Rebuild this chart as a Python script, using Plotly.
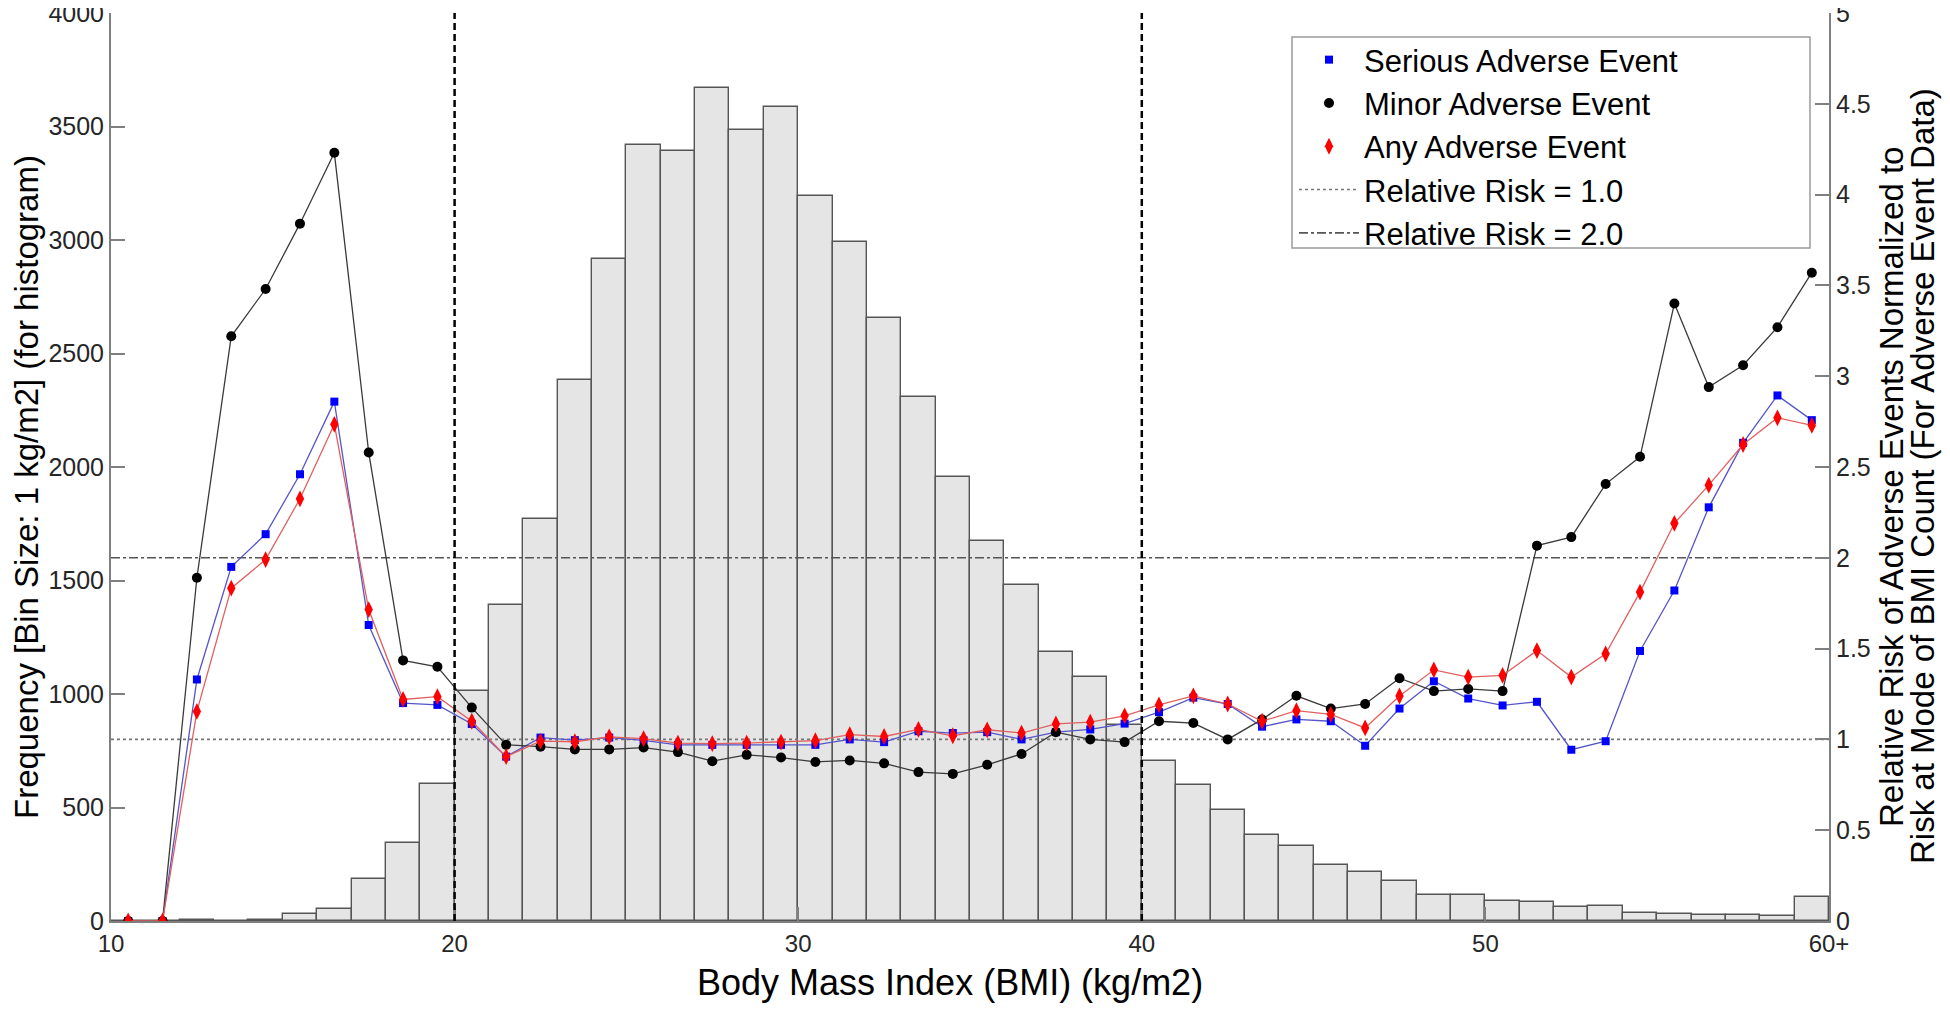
import plotly.graph_objects as go

# histogram bins (left edge of each 1 kg/m2 bin), last bin is 60+
bin_left = list(range(10, 60))
bin_mid = [b + 0.5 for b in bin_left]
hist_count = [0, 0, 3, 2, 5, 30, 52, 184, 342, 603,
              1012, 1393, 1772, 2385, 2915, 3418, 3390, 3670, 3485, 3587,
              3196, 2993, 2657, 2308, 1957, 1673, 1479, 1183, 1073, 865,
              704, 599, 490, 381, 331, 245, 215, 178, 114, 116,
              88, 84, 60, 65, 35, 30, 27, 25, 22, 107]

# relative risk, normalized to risk at mode of BMI count
rr_serious = [0, 0, 1.33, 1.95, 2.13, 2.46, 2.86, 1.63, 1.20, 1.19,
              1.085, 0.905, 1.01, 0.996, 1.01, 0.995, 0.97, 0.97, 0.97, 0.97,
              0.97, 1.00, 0.985, 1.045, 1.035, 1.04, 1.00, 1.04, 1.055, 1.087,
              1.15, 1.23, 1.195, 1.07, 1.11, 1.10, 0.965, 1.17, 1.32, 1.225,
              1.187, 1.207, 0.943, 0.99, 1.487, 1.82, 2.278, 2.633, 2.894, 2.758]
rr_minor = [0, 0, 1.89, 3.22, 3.48, 3.84, 4.23, 2.58, 1.435, 1.40,
            1.175, 0.97, 0.96, 0.945, 0.945, 0.955, 0.93, 0.88, 0.915, 0.90,
            0.876, 0.884, 0.868, 0.82, 0.81, 0.86, 0.92, 1.04, 1.00, 0.985,
            1.10, 1.09, 1.00, 1.11, 1.24, 1.17, 1.195, 1.337, 1.266, 1.278,
            1.266, 2.067, 2.114, 2.406, 2.556, 3.40, 2.94, 3.06, 3.27, 3.57]
rr_any = [0, 0, 1.154, 1.833, 1.99, 2.325, 2.735, 1.715, 1.22, 1.235,
          1.10, 0.905, 0.99, 0.987, 1.014, 1.004, 0.98, 0.977, 0.98, 0.985,
          0.993, 1.026, 1.016, 1.055, 1.02, 1.053, 1.035, 1.085, 1.095, 1.13,
          1.19, 1.24, 1.195, 1.10, 1.158, 1.138, 1.063, 1.239, 1.383, 1.343,
          1.353, 1.489, 1.343, 1.471, 1.811, 2.19, 2.40, 2.624, 2.771, 2.729]

rr_levels = [1.0, 2.0]
bmi_cutoffs = [20, 40]
x_ticks = [10, 20, 30, 40, 50, 60]
x_ticktext = ["10", "20", "30", "40", "50", "60+"]

FONT = "Liberation Sans, Arial, sans-serif"
TICK_FONT = "Liberation Sans Narrow, Arial Narrow, Liberation Sans, Arial, sans-serif"
AXIS_GRAY = "#7f7f7f"

# page has an 8px body margin; keep the figure inside the window (no scrollbars)
# plot area in page px: x 111..1829, y 13..921
PX0, PX1, PY0, PY1 = 111, 1829, 13, 921
FIG_W, FIG_H = 1950 - 16, 1011 - 16


def px(x):
    return (x - PX0) / (PX1 - PX0)


def py(y):
    return (PY1 - y) / (PY1 - PY0)


fig = go.Figure()

fig.add_trace(go.Bar(x=bin_mid, y=hist_count, width=1, yaxis="y",
                     marker=dict(color="#e5e5e5", line=dict(color="#555555", width=1.4)),
                     showlegend=False, hoverinfo="skip"))

# reference lines for relative risk
fig.add_trace(go.Scatter(x=[10, 60], y=[rr_levels[0]] * 2, yaxis="y2", mode="lines",
                         line=dict(color="#777777", width=1.6, dash="dot"),
                         name="Relative Risk = 1.0", legendrank=4))
fig.add_trace(go.Scatter(x=[10, 60], y=[rr_levels[1]] * 2, yaxis="y2", mode="lines",
                         line=dict(color="#555555", width=1.6, dash="dashdot"),
                         name="Relative Risk = 2.0", legendrank=5))

series = [
    ("Serious Adverse Event", rr_serious, "#5555c8", "#0000ff", "square", 8),
    ("Minor Adverse Event", rr_minor, "#3a3a3a", "#000000", "circle", 10),
    ("Any Adverse Event", rr_any, "#e06060", "#ff0000", "diamond-tall", 12),
]
for i, (name, vals, lc, mc, sym, sz) in enumerate(series):
    fig.add_trace(go.Scatter(x=bin_mid, y=vals, yaxis="y2", mode="lines+markers",
                             line=dict(color=lc, width=1.3),
                             marker=dict(color=mc, symbol=sym, size=sz, line=dict(width=0)),
                             showlegend=False))
    # marker-only legend entry
    fig.add_trace(go.Scatter(x=[None], y=[None], yaxis="y2", mode="markers",
                             marker=dict(color=mc, symbol=sym, size=sz),
                             name=name, legendrank=i + 1))

for xc in bmi_cutoffs:
    fig.add_vline(x=xc, line=dict(color="black", width=2.5, dash="7px,4px"), layer="above")

# legend frame
fig.add_shape(type="rect", xref="paper", yref="paper",
              x0=px(1292), x1=px(1810), y0=py(248), y1=py(37),
              line=dict(color="#9a9a9a", width=1.5), fillcolor="white", layer="above")

title_font = dict(family=FONT, size=33, color="black")
fig.add_annotation(text="Body Mass Index (BMI) (kg/m2)", xref="paper", yref="paper",
                   x=px(950), y=py(982), xanchor="center", yanchor="middle", showarrow=False,
                   font=dict(family=FONT, size=36, color="black"))
fig.add_annotation(text="Frequency [Bin Size: 1 kg/m2] (for histogram)", xref="paper", yref="paper",
                   x=px(27), y=py(487), xanchor="center", yanchor="middle",
                   showarrow=False, textangle=-90, font=title_font)
fig.add_annotation(text="Relative Risk of Adverse Events Normalized to", xref="paper", yref="paper",
                   x=px(1892), y=py(487), xanchor="center", yanchor="middle",
                   showarrow=False, textangle=-90, font=title_font)
fig.add_annotation(text="Risk at Mode of BMI Count (For Adverse Event Data)", xref="paper", yref="paper",
                   x=px(1922), y=py(476), xanchor="center", yanchor="middle",
                   showarrow=False, textangle=-90, font=title_font)

axis_common = dict(showline=True, linecolor=AXIS_GRAY, linewidth=2, automargin=False,
                   ticks="inside", ticklen=14, tickcolor=AXIS_GRAY, tickwidth=1.5,
                   showgrid=False, zeroline=False, ticklabeloverflow="allow")
tick_font = dict(family=TICK_FONT, size=25, color="#262626")
fig.update_layout(
    width=FIG_W, height=FIG_H,
    margin=dict(l=PX0 - 8, r=FIG_W + 8 - PX1, t=PY0 - 8, b=FIG_H + 8 - PY1),
    plot_bgcolor="white", paper_bgcolor="white",
    bargap=0,
    xaxis=dict(range=[10, 60], tickvals=x_ticks, ticktext=x_ticktext,
               tickfont=dict(family=TICK_FONT, size=24, color="#262626"), **axis_common),
    yaxis=dict(range=[0, 4000], dtick=500, tickfont=tick_font, **axis_common),
    yaxis2=dict(range=[0, 5], dtick=0.5, overlaying="y", side="right",
                tickfont=tick_font, **axis_common),
    legend=dict(x=px(1294), y=py(33), xanchor="left", yanchor="top",
                bgcolor="rgba(0,0,0,0)", borderwidth=0, itemwidth=60,
                font=dict(family=FONT, size=31, color="black"), tracegroupgap=0),
)

fig.write_html("out.html")
